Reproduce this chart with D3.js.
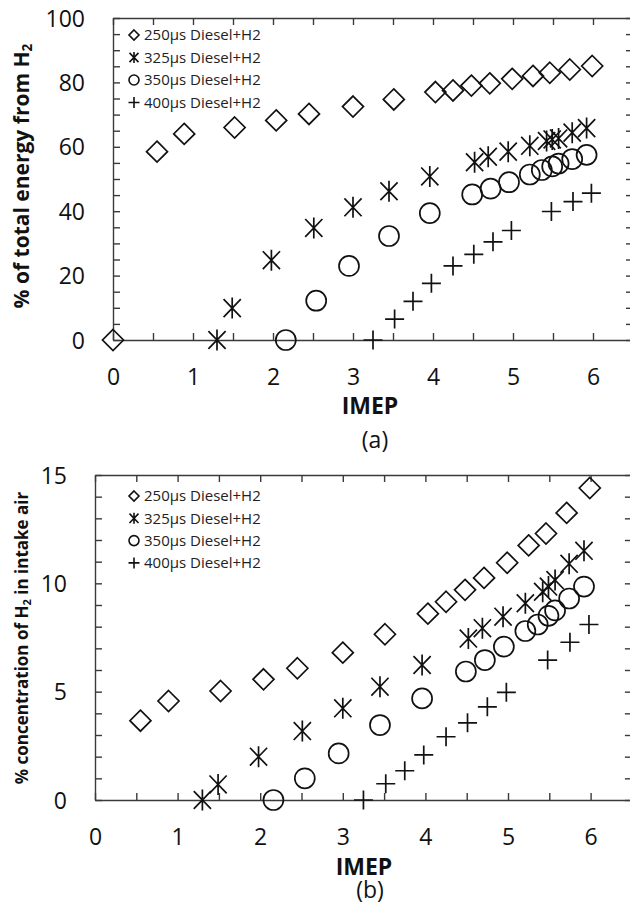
<!DOCTYPE html>
<html><head><meta charset="utf-8">
<script src="https://cdn.jsdelivr.net/npm/d3@7"></script>
<style>body{margin:0;background:#fff} svg{display:block}</style>
</head><body>
<svg id="c" width="630" height="909"></svg>
<script>
// ---------------- data ----------------
const seriesNames = ["250µs Diesel+H2", "325µs Diesel+H2", "350µs Diesel+H2", "400µs Diesel+H2"];
const xTickLabels = [0, 1, 2, 3, 4, 5, 6];
const energyTickLabels = [0, 20, 40, 60, 80, 100];
const concTickLabels = [0, 5, 10, 15];

const imep250   = [0, 0.55, 0.89, 1.52, 2.04, 2.45, 3.0, 3.51, 4.03, 4.25, 4.48, 4.71, 4.99, 5.25, 5.46, 5.71, 5.99];
const energy250 = [0, 58.5, 64, 66, 68.2, 70.2, 72.5, 74.7, 77, 77.5, 79, 79.7, 81.1, 82, 83, 84, 85.1];
const conc250   = [null, 3.66, 4.57, 5.03, 5.57, 6.08, 6.8, 7.65, 8.6, 9.15, 9.7, 10.25, 10.95, 11.75, 12.3, 13.25, 14.4];

const imep325   = [1.3, 1.49, 1.98, 2.51, 3.0, 3.45, 3.96, 4.52, 4.69, 4.94, 5.21, 5.42, 5.49, 5.57, 5.74, 5.92];
const energy325 = [0, 9.9, 24.8, 34.8, 41.2, 46.2, 50.8, 55.2, 56.9, 58.5, 60.3, 61.8, 62.3, 62.6, 64.4, 65.8];
const conc325   = [0, 0.72, 2.0, 3.18, 4.23, 5.23, 6.23, 7.45, 7.93, 8.46, 9.08, 9.61, 9.85, 10.15, 10.9, 11.5];

const imep350   = [2.16, 2.54, 2.95, 3.45, 3.96, 4.49, 4.72, 4.95, 5.21, 5.36, 5.49, 5.57, 5.74, 5.92];
const energy350 = [0, 12.2, 23, 32.3, 39.4, 45.2, 47, 49, 51.4, 52.8, 53.9, 54.8, 56.2, 57.5];
const conc350   = [0, 1.0, 2.15, 3.46, 4.69, 5.93, 6.46, 7.08, 7.8, 8.1, 8.5, 8.75, 9.3, 9.85];

const imep400   = [3.25, 3.52, 3.75, 3.98, 4.25, 4.51, 4.75, 4.98, 5.48, 5.75, 5.98];
const energy400 = [0, 6.5, 12, 17.6, 23, 26.6, 30.5, 34, 39.9, 43, 45.6];
const conc400   = [0, 0.75, 1.35, 2.08, 2.92, 3.56, 4.3, 4.97, 6.46, 7.28, 8.1];

// ---------------- symbols ----------------
const symDiamond = { draw(p, s) { const r = Math.sqrt(s) / 2; p.moveTo(0, -r); p.lineTo(r, 0); p.lineTo(0, r); p.lineTo(-r, 0); p.closePath(); } };
const symStar = { draw(p, s) { const r = Math.sqrt(s) / 2; p.moveTo(0, -r); p.lineTo(0, r); p.moveTo(-0.82*r, -0.85*r); p.lineTo(0.82*r, 0.85*r); p.moveTo(-0.82*r, 0.85*r); p.lineTo(0.82*r, -0.85*r); } };
const symCircle = { draw(p, s) { const r = Math.sqrt(s) / 2; p.moveTo(r, 0); p.arc(0, 0, r, 0, 2*Math.PI); } };
const symPlus = { draw(p, s) { const r = Math.sqrt(s) / 2; p.moveTo(-r, 0); p.lineTo(r, 0); p.moveTo(0, -r); p.lineTo(0, r); } };
const symbols = [symDiamond, symStar, symCircle, symPlus];
const markerSize = [21*21, 21*21, 20*20, 19*19];
const legendSize = [10*10, 11*11, 10*10, 11*11];

const FONT = "'Open Sans', sans-serif";
const svg = d3.select("#c");

function panel(cfg) {
  const g = svg.append("g");
  const x = d3.scaleLinear().domain([0, 6.5]).range([cfg.left, cfg.left + 6.5 * cfg.ppu]);
  const y = d3.scaleLinear().domain([0, cfg.ymax]).range([cfg.bottom, cfg.top]);
  const xt = d3.range(0, 6.5001, 0.5);
  const yt = d3.range(0, cfg.ymax + 0.001, cfg.ystep);

  const styleAxis = sel => {
    sel.selectAll("path.domain").attr("stroke", "#3a3a3a").attr("stroke-width", 1.4);
    sel.selectAll(".tick line").attr("stroke", "#3a3a3a").attr("stroke-width", 1.4);
    sel.selectAll("text").attr("font-family", FONT).attr("font-size", 23).attr("fill", "#111");
  };

  g.append("g").attr("transform", `translate(0,${cfg.top})`)
    .call(d3.axisTop(x).tickValues(xt).tickSizeInner(-7).tickSizeOuter(0).tickFormat(""))
    .call(styleAxis);
  g.append("g").attr("transform", `translate(${x.range()[1]},0)`)
    .call(d3.axisRight(y).tickValues(yt).tickSizeInner(-7).tickSizeOuter(0).tickFormat(""))
    .call(styleAxis);
  const xa = g.append("g").attr("transform", `translate(0,${cfg.bottom})`)
    .call(d3.axisBottom(x).tickValues(xt).tickSizeInner(-7).tickSizeOuter(0)
      .tickFormat(d => xTickLabels.includes(d) ? d : ""))
    .call(styleAxis);
  xa.selectAll("text").attr("y", 37).attr("dy", "0.35em");
  const ya = g.append("g").attr("transform", `translate(${cfg.left},0)`)
    .call(d3.axisLeft(y).tickValues(yt).tickSizeInner(-7).tickSizeOuter(0).tickPadding(28)
      .tickFormat(d => cfg.ylabels.includes(d) ? d : ""))
    .call(styleAxis);
  ya.selectAll("text").attr("x", -28).attr("dy", "0.35em");

  // data
  const series = cfg.series;
  series.forEach((s, i) => {
    const pts = s.xs.map((v, k) => ({ x: v, y: s.ys[k] })).filter(d => d.y !== null);
    g.append("g").selectAll("path").data(pts).join("path")
      .attr("d", d3.symbol().type(symbols[i]).size(markerSize[i]))
      .attr("transform", d => `translate(${x(d.x)},${y(d.y)})`)
      .attr("fill", "none").attr("stroke", "#111").attr("stroke-width", 1.7);
  });

  // legend
  const lg = g.append("g");
  seriesNames.forEach((name, i) => {
    const cy = cfg.legendY + i * cfg.legendStep;
    lg.append("path").attr("d", d3.symbol().type(symbols[i]).size(legendSize[i]))
      .attr("transform", `translate(134,${cy})`)
      .attr("fill", "none").attr("stroke", "#111").attr("stroke-width", 1.6);
    lg.append("text").attr("x", 144).attr("y", cy).attr("dy", "0.35em")
      .attr("font-family", FONT).attr("font-size", 15).attr("fill", "#222").text(name);
  });

  // titles
  const yl = g.append("text").attr("transform", `translate(${cfg.ytitleX},${cfg.ytitleY}) rotate(-90)`)
    .attr("text-anchor", "middle").attr("font-family", FONT).attr("font-weight", "bold")
    .attr("font-size", cfg.ytitleSize).attr("fill", "#111");
  yl.append("tspan").text(cfg.ytitle[0]);
  yl.append("tspan").attr("font-size", cfg.ytitleSize * 0.65).attr("dy", "0.25em").text("2");
  yl.append("tspan").attr("dy", "-0.16em").text(cfg.ytitle[1]);

  g.append("text").attr("x", cfg.imepX).attr("y", cfg.imepY).attr("text-anchor", "middle")
    .attr("font-family", FONT).attr("font-weight", "bold").attr("font-size", 23).attr("fill", "#111").text("IMEP");
  g.append("text").attr("x", cfg.capX).attr("y", cfg.capY).attr("text-anchor", "middle")
    .attr("font-family", FONT).attr("font-size", 23).attr("fill", "#111").text(cfg.caption);
}

panel({
  left: 113, ppu: 80, top: 18, bottom: 340, ymax: 100, ystep: 5, ylabels: energyTickLabels,
  series: [
    { xs: imep250, ys: energy250 }, { xs: imep325, ys: energy325 },
    { xs: imep350, ys: energy350 }, { xs: imep400, ys: energy400 }
  ],
  legendY: 35, legendStep: 22.5,
  ytitle: ["% of total energy from H", ""], ytitleX: 29, ytitleY: 176, ytitleSize: 21,
  imepX: 370, imepY: 414, capX: 375, capY: 448, caption: "(a)"
});
panel({
  left: 95, ppu: 82.6, top: 475, bottom: 800, ymax: 15, ystep: 1, ylabels: concTickLabels,
  series: [
    { xs: imep250, ys: conc250 }, { xs: imep325, ys: conc325 },
    { xs: imep350, ys: conc350 }, { xs: imep400, ys: conc400 }
  ],
  legendY: 496, legendStep: 22.3,
  ytitle: ["% concentration of H", " in intake air"], ytitleX: 28, ytitleY: 638, ytitleSize: 17,
  imepX: 364, imepY: 875, capX: 370, capY: 898, caption: "(b)"
});
</script>
</body></html>
